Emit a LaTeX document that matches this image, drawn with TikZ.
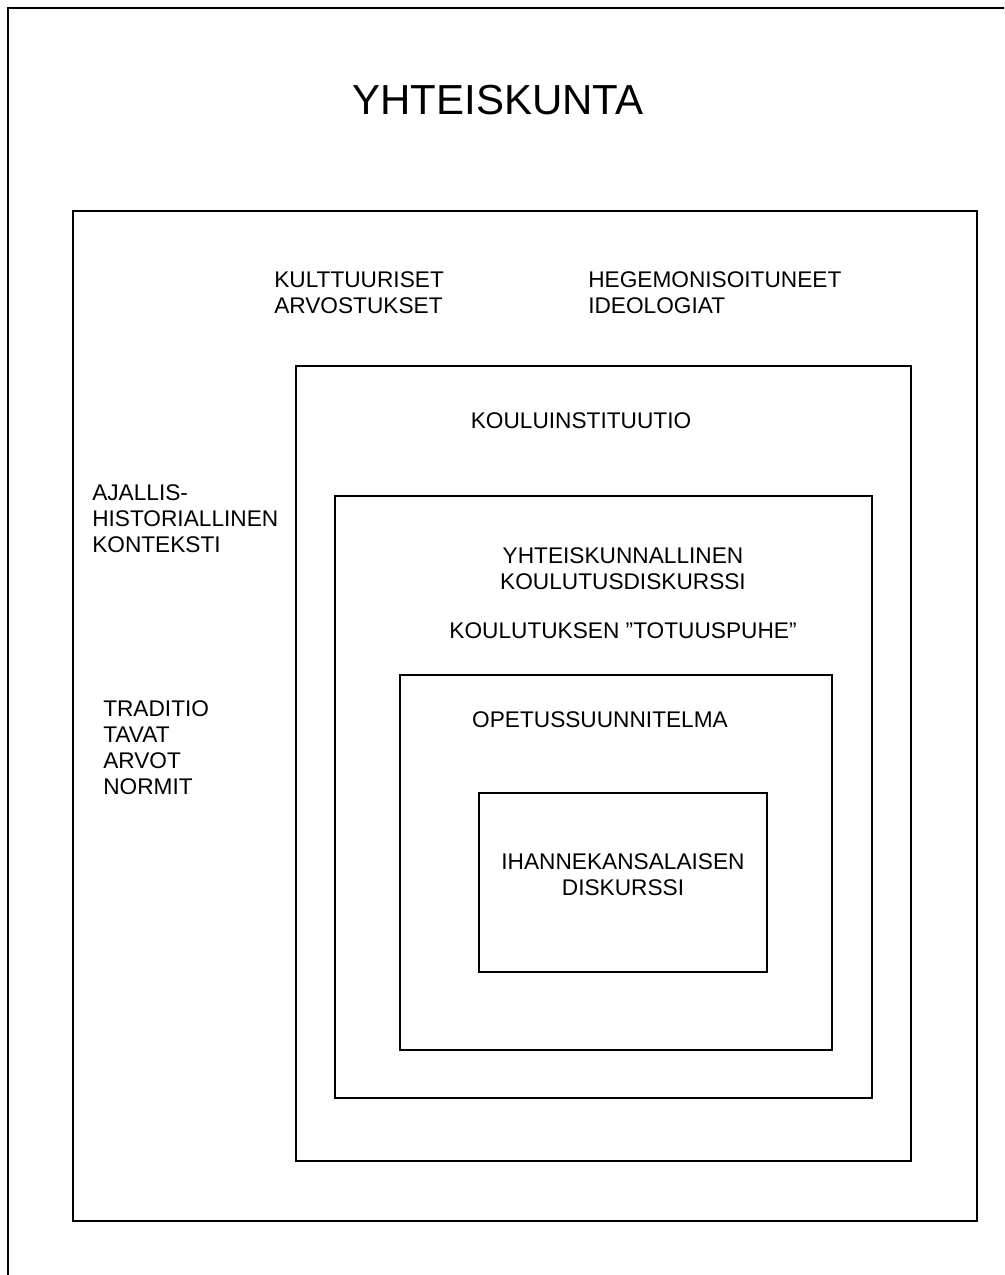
\documentclass[tikz,border=0pt]{standalone}
\usepackage{fontspec}
\setmainfont{Liberation Sans}
\tikzset{
  lbl/.style={font=\fontsize{17}{19.5}\selectfont, inner sep=0pt},
  box/.style={line width=1.1pt}
}
\begin{document}
\begin{tikzpicture}[x=0.75pt,y=0.75pt,yscale=-1,xscale=1]
\useasboundingbox (0,0) rectangle (1004,1275);
\clip (0,0) rectangle (1004,1275);

%Shape: Rectangle (outer, runs past the page)
\draw [line width=1.4pt]  (8,8) -- (1030,8) -- (1030,1300) -- (8,1300) -- cycle ;
%Shape: Rectangle
\draw [box]  (73,211) -- (977,211) -- (977,1221) -- (73,1221) -- cycle ;
%Shape: Rectangle
\draw [box]  (296,366) -- (911,366) -- (911,1161) -- (296,1161) -- cycle ;
%Shape: Rectangle
\draw [box]  (335,496) -- (872,496) -- (872,1098) -- (335,1098) -- cycle ;
%Shape: Rectangle
\draw [box]  (400,675) -- (832,675) -- (832,1050) -- (400,1050) -- cycle ;
%Shape: Rectangle
\draw [box]  (479,793) -- (767,793) -- (767,972) -- (479,972) -- cycle ;

% Text Node
\draw (498,85) node [anchor=north, inner sep=0pt, font=\fontsize{31.5}{36}\selectfont] (yhteiskunta) {YHTEISKUNTA};
% Text Node
\draw (274,271) node [lbl, anchor=north west, align=left] (kulttuuri) {KULTTUURISET\\ARVOSTUKSET};
% Text Node
\draw (588,271) node [lbl, anchor=north west, align=left] (hegemonia) {HEGEMONISOITUNEET\\IDEOLOGIAT};
% Text Node
\draw (581,428) node [lbl, anchor=base] (instituutio) {KOULUINSTITUUTIO};
% Text Node
\draw (92,484) node [lbl, anchor=north west, align=left] (konteksti) {AJALLIS-\\HISTORIALLINEN\\KONTEKSTI};
% Text Node
\draw (103,700) node [lbl, anchor=north west, align=left] (traditio) {TRADITIO\\TAVAT\\ARVOT\\NORMIT};
% Text Node
\draw (623,547) node [lbl, anchor=north, align=center] (diskurssi) {YHTEISKUNNALLINEN\\KOULUTUSDISKURSSI};
% Text Node
\draw (623,638) node [lbl, anchor=base] (totuuspuhe) {KOULUTUKSEN ”TOTUUSPUHE”};
% Text Node
\draw (600,727) node [lbl, anchor=base] (ops) {OPETUSSUUNNITELMA};
% Text Node
\draw (623,853) node [lbl, anchor=north, align=center] (ihanne) {IHANNEKANSALAISEN\\DISKURSSI};

\end{tikzpicture}
\end{document}
